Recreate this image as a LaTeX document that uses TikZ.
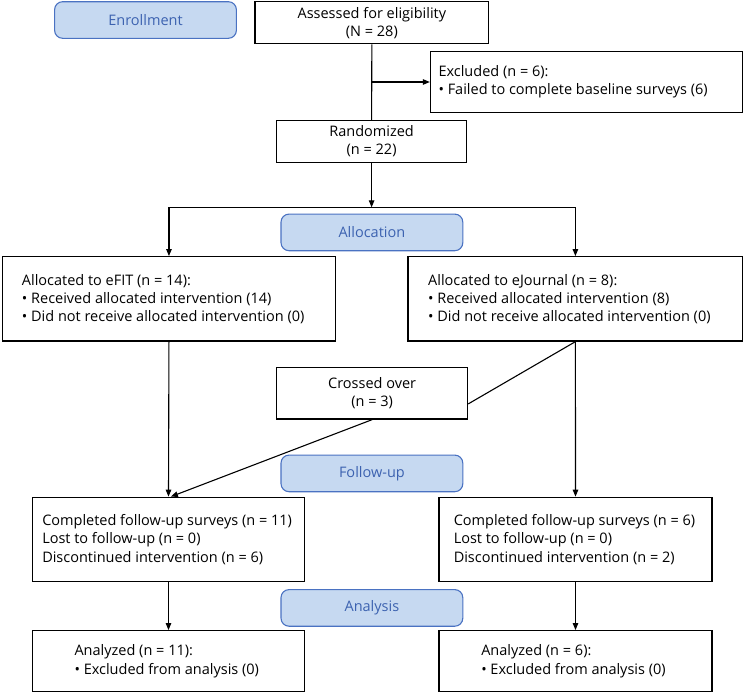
\documentclass[tikz,border=0pt]{standalone}
\usepackage{fontspec}
\setmainfont{Open Sans}
\usetikzlibrary{arrows.meta}
\definecolor{lblfill}{HTML}{C6D9F1}
\definecolor{lbldraw}{HTML}{4A72C2}
\definecolor{lbltext}{HTML}{3C62B0}
\tikzset{
  box/.style={draw=black, line width=1.3pt, inner sep=0pt, fill=white},
  phase/.style={draw=lbldraw, fill=lblfill, line width=1.1pt, rounded corners=8pt,
    minimum width=181.8pt, minimum height=36.6pt, inner sep=0pt, text=lbltext},
  txt/.style={anchor=west, align=left, inner sep=0pt},
  ctxt/.style={align=center, inner sep=0pt},
  conn/.style={line width=1.1pt, draw=black},
  arr/.style={conn, -{Triangle[length=7pt,width=5.5pt]}},
}
\begin{document}
\begin{tikzpicture}[x=1pt, y=-1pt, font=\fontsize{14.5}{18.2}\selectfont]
\useasboundingbox (0,0) rectangle (744,694);
% phase labels
\node[phase] (enr) at (145.5,20) {Enrollment};
\node[phase] (alloc) at (371.9,232.4) {Allocation};
\node[phase] (fup) at (371.9,473.4) {Follow-up};
\node[phase] (ana) at (371.9,607.9) {Analysis};
% boxes
\node[box, minimum width=233.9pt, minimum height=42pt] (assess) at (371.85,22.7) {};
\node[ctxt] at (assess.center) {Assessed for eligibility\\(N = 28)};
\node[box, minimum width=312.3pt, minimum height=60.6pt] (excl) at (586.65,82) {};
\node[txt] at ([xshift=8.5pt]excl.west) {Excluded (n = 6):\\• Failed to complete baseline surveys (6)};
\node[box, minimum width=189.8pt, minimum height=41.6pt] (rand) at (371.6,141.5) {};
\node[ctxt] at (rand.center) {Randomized\\(n = 22)};
\node[box, minimum width=333.1pt, minimum height=84.3pt] (efit) at (168.95,298.85) {};
\node[txt] at ([xshift=20pt]efit.west) {Allocated to eFIT (n = 14):\\• Received allocated intervention (14)\\• Did not receive allocated intervention (0)};
\node[box, minimum width=334.8pt, minimum height=84.3pt] (ejour) at (575.4,298.85) {};
\node[txt] at ([xshift=20.6pt]ejour.west) {Allocated to eJournal (n = 8):\\• Received allocated intervention (8)\\• Did not receive allocated intervention (0)};
\node[box, minimum width=190.8pt, minimum height=51.3pt] (cross) at (372.1,393.35) {};
\node[ctxt] at (cross.center) {Crossed over\\(n = 3)};
\node[box, minimum width=272.4pt, minimum height=84.4pt] (lfu) at (168.5,539.5) {};
\node[txt] at ([xshift=10.4pt]lfu.west) {Completed follow-up surveys (n = 11)\\Lost to follow-up (n = 0)\\Discontinued intervention (n = 6)};
\node[box, minimum width=273pt, minimum height=84.4pt] (rfu) at (575.5,539.5) {};
\node[txt] at ([xshift=15.2pt]rfu.west) {Completed follow-up surveys (n = 6)\\Lost to follow-up (n = 0)\\Discontinued intervention (n = 2)};
\node[box, minimum width=272.4pt, minimum height=61pt] (lan) at (168.5,661.2) {};
\node[txt] at ([xshift=42.7pt]lan.west) {Analyzed (n = 11):\\• Excluded from analysis (0)};
\node[box, minimum width=273pt, minimum height=61pt] (ran) at (575.5,661.2) {};
\node[txt] at ([xshift=42.7pt]ran.west) {Analyzed (n = 6):\\• Excluded from analysis (0)};
% coordinates
\coordinate (split) at (371.6,207.3);
\coordinate (splitL) at (efit.north |- split);
\coordinate (splitR) at (ejour.north |- split);
\coordinate (crossin) at ([yshift=-10.6pt]cross.east);
\coordinate (lfuin) at ([xshift=2.4pt]lfu.north);
% connectors
\draw[conn] (assess.south) -- (rand.north);
\draw[arr] (assess.south |- excl.west) -- (excl.west);
\draw[arr] (rand.south) -- (split);
\draw[conn] (splitL) -- (splitR);
\draw[arr] (splitL) -- (efit.north);
\draw[arr] (splitR) -- (ejour.north);
\draw[arr] (efit.south) -- (lfu.north);
\draw[arr] (ejour.south) -- (rfu.north);
\draw[conn] (ejour.south) -- (crossin);
\draw[arr] (cross.south) -- (lfuin);
\draw[arr] (lfu.south) -- (lan.north);
\draw[arr] (rfu.south) -- (ran.north);
\end{tikzpicture}
\end{document}
